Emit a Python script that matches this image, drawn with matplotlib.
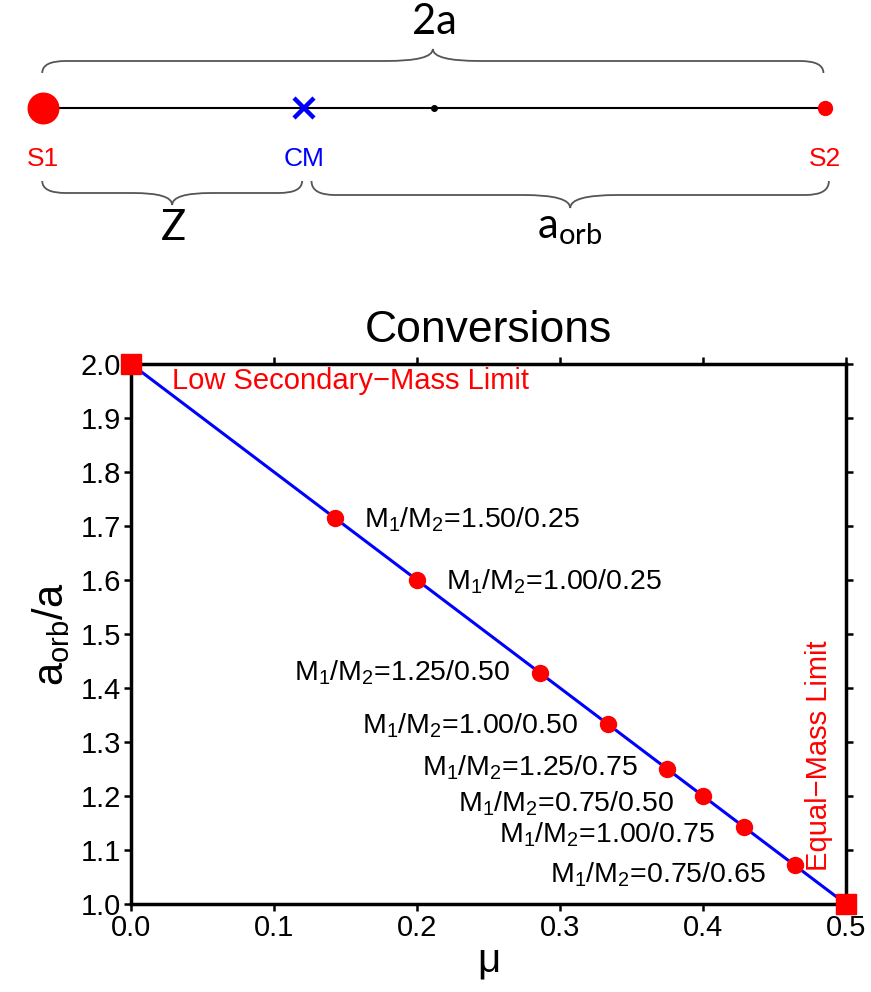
import numpy as np
import matplotlib
matplotlib.use("Agg")
import matplotlib.pyplot as plt
from matplotlib.path import Path
from matplotlib.patches import PathPatch

plt.rcParams["font.family"] = ["Liberation Sans", "DejaVu Sans"]
plt.rcParams["mathtext.default"] = "regular"

# binary components (masses in solar units) shown on the conversion line
m1 = [1.50, 1.00, 1.25, 1.00, 1.25, 0.75, 1.00, 0.75]
m2 = [0.25, 0.25, 0.50, 0.50, 0.75, 0.50, 0.75, 0.65]
# label side (+1 right, -1 left) and vertical shift of the baseline, in points
label_side = [1, 1, -1, -1, -1, -1, -1, -1]
label_dy = [-6.5, -6.5, -6, -6.5, -4.5, -11, -11.5, -12]

# limiting cases
limit_mu = [0.0, 0.5]
limit_aorb = [2.0, 1.0]

# schematic: separation 2a spans 0..1, centre of mass at mu = 1/3
diag_mu = 1.0 / 3.0

mu = np.array(m2) / (np.array(m1) + np.array(m2))
aorb = 2.0 * (1.0 - mu)

fig = plt.figure(figsize=(8.71, 9.92), dpi=100)


def brace(ax, x0, x1, y_end, y_mid, y_tip, r_end, r_tip, **kw):
    xm = 0.5 * (x0 + x1)
    verts = [
        (x0, y_end), (x0, y_mid), (x0 + r_end, y_mid),
        (xm - r_tip, y_mid),
        (xm, y_mid), (xm, y_tip),
        (xm, y_mid), (xm + r_tip, y_mid),
        (x1 - r_end, y_mid),
        (x1, y_mid), (x1, y_end),
    ]
    codes = [Path.MOVETO, Path.CURVE3, Path.CURVE3, Path.LINETO,
             Path.CURVE3, Path.CURVE3, Path.CURVE3, Path.CURVE3,
             Path.LINETO, Path.CURVE3, Path.CURVE3]
    ax.add_patch(PathPatch(Path(verts, codes), fill=False, **kw))


# ---- top schematic ----
top = fig.add_axes([0, 1 - 280 / 992, 1, 280 / 992])
top.set_xlim(-43 / 782, (871 - 43) / 782)
top.set_ylim(280, 0)
top.axis("off")

ypix = 108
top.plot([0, 1], [ypix, ypix], color="black", lw=1.5, zorder=1)
top.plot(0, ypix, "o", color="red", ms=22, zorder=3)
top.plot(1, ypix, "o", color="red", ms=10, zorder=3)
top.plot(0.5, ypix, "o", color="black", ms=4, zorder=3)
top.plot(diag_mu, ypix, "x", color="blue", ms=15, mew=3.2, zorder=3)

top.text(0, 159, "S1", color="red", fontsize=19, ha="center", va="center")
top.text(diag_mu, 159, "CM", color="blue", fontsize=19, ha="center", va="center")
top.text(1, 159, "S2", color="red", fontsize=19, ha="center", va="center")

bk = dict(color="#555555", lw=1.3)
brace(top, -0.001, 0.998, 73, 61, 49, 0.03, 0.06, **bk)
brace(top, -0.001, diag_mu - 0.002, 181, 193, 205, 0.03, 0.05, **bk)
brace(top, diag_mu + 0.010, 1.005, 181, 195, 208, 0.03, 0.06, **bk)

lato = ["Lato", "DejaVu Sans"]
top.text(0.5, 22, "2a", fontsize=30, ha="center", va="center", family=lato)
top.text(diag_mu / 2, 228, "Z", fontsize=30, ha="center", va="center", family=lato)
top.text(0.674, 228, r"$a_{orb}$", fontsize=30, ha="center", va="center", family=lato)

# ---- conversion plot ----
ax = fig.add_axes([131 / 871, 1 - 904 / 992, 715 / 871, 540 / 992])
ax.set_xlim(0, 0.5)
ax.set_ylim(1.0, 2.0)

ax.plot(limit_mu, limit_aorb, color="blue", lw=2.2, zorder=2)
ax.plot(limit_mu, limit_aorb, "s", color="red", ms=14, clip_on=False, zorder=4)
ax.plot(mu, aorb, "o", color="red", ms=11.5, zorder=3)

for x, y, a, b, side, dy in zip(mu, aorb, m1, m2, label_side, label_dy):
    ax.annotate(f"M$_1$/M$_2$={a:.2f}/{b:.2f}", (x, y),
                xytext=(21 * side, dy), textcoords="offset points",
                ha="left" if side > 0 else "right", va="baseline", fontsize=20.5)

ax.text(0.029, 1.969, "Low Secondary\u2212Mass Limit", color="red", fontsize=21,
        ha="left", va="center")
ax.text(0.481, 1.274, "Equal\u2212Mass Limit", color="red", fontsize=21,
        ha="center", va="center", rotation=90)

ax.set_xticks(np.arange(0, 0.51, 0.1))
ax.set_yticks(np.arange(1.0, 2.01, 0.1))
ax.xaxis.set_major_formatter(plt.FormatStrFormatter("%.1f"))
ax.yaxis.set_major_formatter(plt.FormatStrFormatter("%.1f"))
ax.tick_params(direction="out", length=5, width=1.8, labelsize=21, pad=2,
               top=True, right=True)
for s in ax.spines.values():
    s.set_linewidth(2.5)

ax.set_title("Conversions", fontsize=32, pad=16)
ax.set_xlabel("\u03bc", fontsize=29, labelpad=0)
ax.set_ylabel(r"$a_{orb}$/a", fontsize=30, labelpad=6)

fig.savefig("out.png", dpi=100)
